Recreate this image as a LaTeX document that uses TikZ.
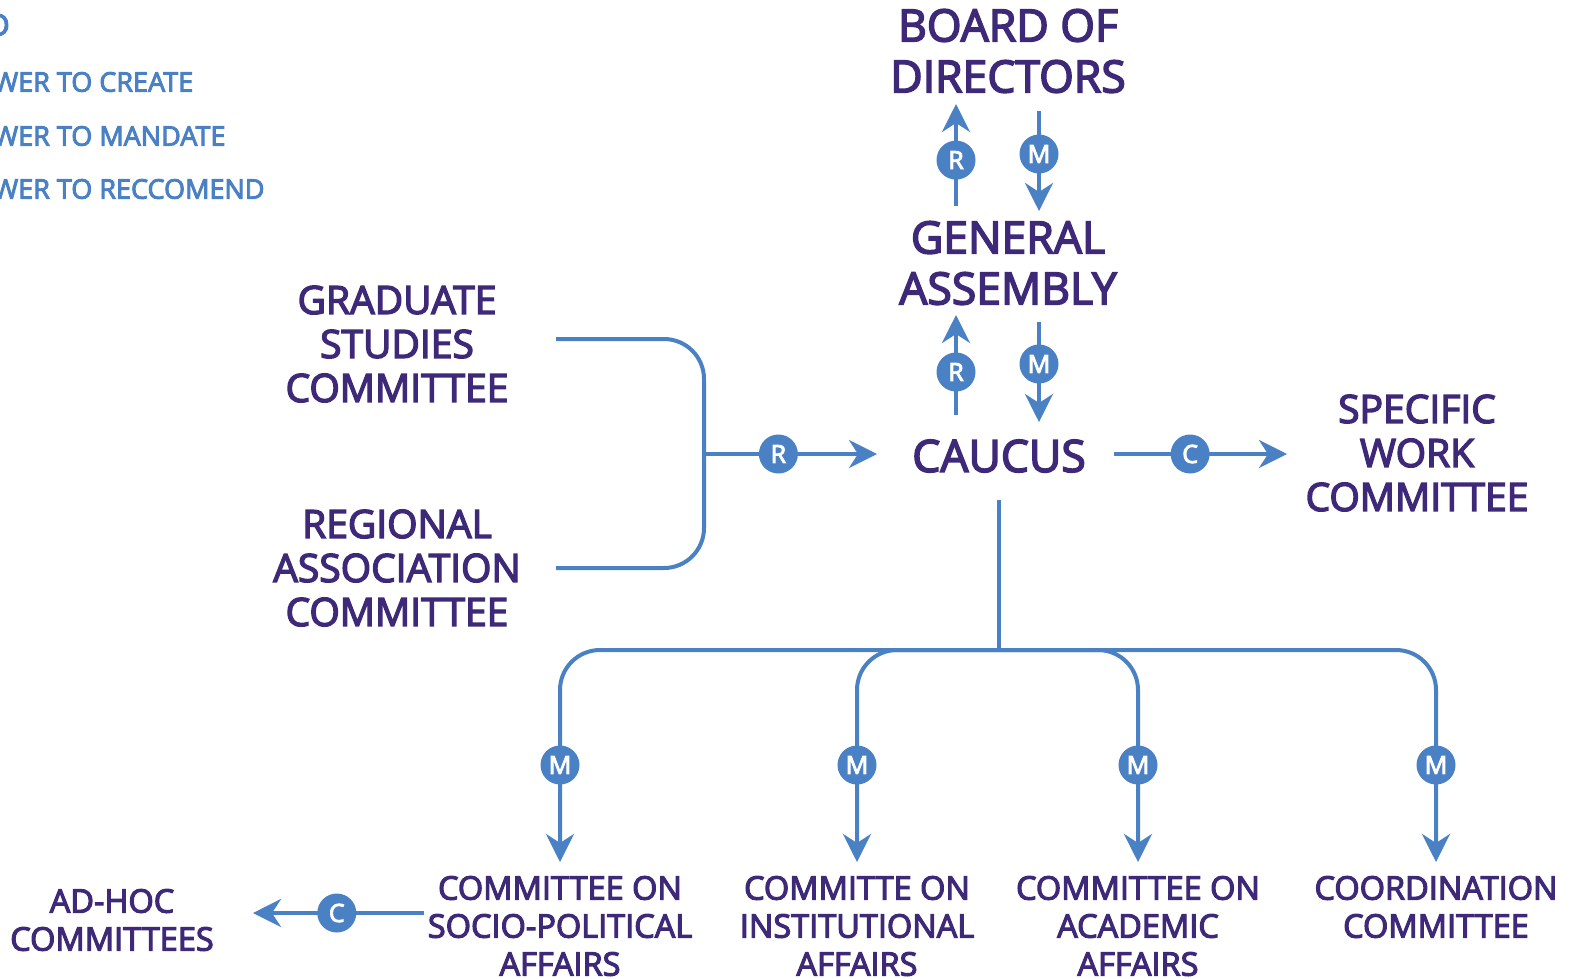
\documentclass[tikz,border=0pt]{standalone}
\usepackage{fontspec}
\setmainfont{Open Sans}[UprightFeatures={FakeBold=3.5}]
\usetikzlibrary{arrows.meta}
\definecolor{ink}{RGB}{62,40,120}
\definecolor{wire}{RGB}{74,128,196}
\begin{document}
\begin{tikzpicture}[x=1pt,y=-1pt,
  every node/.style={text=ink,align=center,inner sep=0pt},
  big/.style={font=\fontsize{44.5}{51}\selectfont},
  mid/.style={font=\fontsize{39}{44}\selectfont},
  small/.style={font=\fontsize{32.5}{38}\selectfont},
  key/.style={font=\fontsize{27}{34}\selectfont,text=wire},
  link/.style={draw=wire,line width=4pt},
  flow/.style={link,-{Stealth[length=28pt,width=28pt,inset=9pt]}},
  badge/.style={circle,fill=wire,minimum size=39pt,text=white,
    font=\fontsize{25}{25}\selectfont}]
\useasboundingbox (0,0) rectangle (1577,978);
% legend, cut at the left edge
\node[key,anchor=east,font=\fontsize{31}{34}\selectfont] (keyhead) at (10,25) {D};
\foreach \name/\y/\txt in {create/82/CREATE,mandate/136/MANDATE,advise/189/RECCOMEND}
  \node[key,anchor=west] (\name) at (-7,\y) {WER TO \txt};
% main bodies
\node[big] (board) at (1008,51) {BOARD OF\\DIRECTORS};
\node[big] (assembly) at (1008,263) {GENERAL\\ASSEMBLY};
\node[big] (caucus) at (999,456) {CAUCUS};
\node[mid] (grad) at (397,344) {GRADUATE\\STUDIES\\COMMITTEE};
\node[mid] (regional) at (397,568) {REGIONAL\\ASSOCIATION\\COMMITTEE};
\node[mid] (specific) at (1417,453) {SPECIFIC\\WORK\\COMMITTEE};
\node[small] (socio) at (560,926) {COMMITTEE ON\\SOCIO-POLITICAL\\AFFAIRS};
\node[small] (inst) at (857,926) {COMMITTE ON\\INSTITUTIONAL\\AFFAIRS};
\node[small] (acad) at (1138,926) {COMMITTEE ON\\ACADEMIC\\AFFAIRS};
\node[small] (coord) at (1436,907) {COORDINATION\\COMMITTEE};
\node[small] (adhoc) at (112,920) {AD-HOC\\COMMITTEES};
% connector ends
\foreach \name/\x/\y in {upA/956/206,upB/956/104,downA/1039/111,downB/1039/211,
  upC/956/415,upD/956/315,downC/1039/322,downD/1039/422,
  gradEnd/556/339,regEnd/556/568,joinTop/704/339,joinMid/704/454,joinBot/704/568,
  caucusIn/877/454,caucusOut/1114/454,specIn/1287/454,
  trunkTop/999/500,trunkBot/999/650,socioIn/560/862,instIn/857/862,
  acadIn/1138/862,coordIn/1436/862,socioOut/424/913,adhocIn/253/913}
  \coordinate (\name) at (\x,\y);
\draw[flow] (upA) -- node[badge,pos=.45]{R} (upB);
\draw[flow] (downA) -- node[badge,pos=.43]{M} (downB);
\draw[flow] (upC) -- node[badge,pos=.43]{R} (upD);
\draw[flow] (downC) -- node[badge,pos=.42]{M} (downD);
\draw[link,rounded corners=40pt] (gradEnd) -- (joinTop) -- (joinBot) -- (regEnd);
\draw[flow] (joinMid) -- node[badge,pos=.43]{R} (caucusIn);
\draw[flow] (caucusOut) -- node[badge,pos=.44]{C} (specIn);
\draw[link] (trunkTop) -- (trunkBot);
\foreach \target in {socioIn,instIn,acadIn,coordIn}
  \draw[flow,rounded corners=40pt] (trunkBot) -| (\target);
\foreach \target in {socioIn,instIn,acadIn,coordIn}
  \node[badge] at ([yshift=97pt]\target) {M};
\draw[flow] (socioOut) -- node[badge,pos=.51]{C} (adhocIn);
\end{tikzpicture}
\end{document}
